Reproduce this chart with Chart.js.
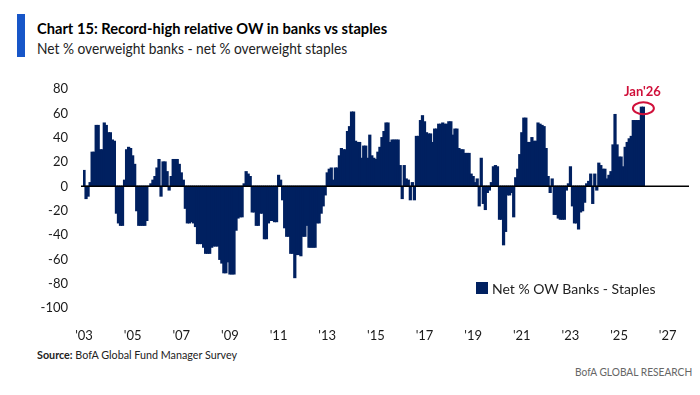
<!DOCTYPE html>
<html>
<head>
<meta charset="utf-8">
<script src="https://cdn.jsdelivr.net/npm/chart.js@4.4.1/dist/chart.umd.min.js"></script>
<style>
body{margin:0;width:700px;height:395px;background:#fff;position:relative;overflow:hidden;font-family:Lato,"Open Sans",sans-serif}
#chartBox{position:absolute;left:0;top:0;width:700px;height:395px}
.txt{position:absolute;white-space:nowrap;transform-origin:0 0;line-height:1}
#blueBar{position:absolute;left:17px;top:14px;width:8px;height:43px;background:#1756c8}
#title{left:37px;top:20px;font-weight:bold;font-size:16px;color:#000}
#subtitle{left:37px;top:41px;font-size:15px;color:#222}
#source{left:37px;top:349px;font-size:12px;color:#222}
#brand{top:366px;font-size:12px;color:#666}
</style>
</head>
<body>
<div id="blueBar"></div>
<div class="txt" id="title" data-w="350">Chart 15: Record-high relative OW in banks vs staples</div>
<div class="txt" id="subtitle" data-w="310">Net % overweight banks - net % overweight staples</div>
<div class="txt" id="source" data-w="200"><b>Source:</b> BofA Global Fund Manager Survey</div>
<div class="txt" id="brand" data-w="117" data-right="692">BofA GLOBAL RESEARCH</div>
<div id="chartBox"><canvas id="fmsChart"></canvas></div>
<script>
// monthly, Jan 2003 .. Jan 2026
const startYear = 2003
const barValues = [
  13,-10,-8,3,28,28,50,50,30,30,52,50,
  44,44,38,37,-22,-30,-32,-32,5,30,32,31,
  25,18,-20,-32,-32,-32,-32,-28,0,2,5,8,
  15,22,-8,20,20,12,-3,8,22,22,22,18,
  11,5,-18,-30,-30,-29,-30,-33,-47,-47,-47,-50,
  -55,-55,-55,-50,-49,-49,-49,-60,-63,-71,-71,-62,
  -72,-72,-72,-36,-26,-25,-25,2,12,10,8,-21,
  -21,-32,-32,-22,-22,-43,-43,-30,-28,-28,-29,-29,
  9,5,-11,-34,-41,-41,-55,-55,-75,-56,-56,-57,
  -41,-41,-32,-50,-50,-50,-50,-30,-30,-22,-16,-7,
  11,14,15,5,15,15,25,31,30,30,45,49,
  61,61,37,36,36,23,33,33,23,42,25,23,
  22,28,32,40,45,52,52,36,38,38,38,38,
  17,-10,17,6,5,-11,3,-11,41,41,54,58,
  53,44,43,43,36,47,47,51,51,52,51,51,
  53,53,42,47,47,31,30,30,27,27,27,10,
  8,3,6,-16,23,-14,-19,-5,-3,3,16,17,
  16,-27,-27,-48,-37,-7,-7,-5,-25,7,14,26,
  44,56,56,36,36,40,37,37,52,51,50,49,
  31,8,-5,6,-23,-23,-26,-27,-27,-27,-3,2,
  16,-16,-30,-30,-35,-21,-20,-13,2,4,10,-14,
  10,-3,19,17,14,14,6,9,12,34,59,34,
  24,24,16,32,36,39,41,54,54,54,54,65,
  65
]
const tickLabels = ["'03","'05","'07","'09","'11","'13","'15","'17","'19","'21","'23","'25","'27"]
const seriesName = "Net % OW Banks - Staples"
const calloutLabel = "Jan'26"
const totalMonths = 299   // axis runs on past the data to late 2027

const months = []
for (let i = 0; i < totalMonths; i++) {
    const y = startYear + Math.floor(i / 12)
    months.push(y + '-' + String(i % 12 + 1).padStart(2, '0'))
}
const seriesData = months.map((_, i) => i < barValues.length ? barValues[i] : null)

const navy = '#002060'
const red = '#d0103a'

const extras = {
    id: 'extras',
    afterDatasetsDraw(chart) {
        const {ctx, chartArea, scales: {x, y}} = chart
        const y0 = y.getPixelForValue(0)
        ctx.save()
        ctx.strokeStyle = '#000'
        ctx.lineWidth = 1.5
        ctx.beginPath()
        ctx.moveTo(chartArea.left - 2, y0)
        ctx.lineTo(chartArea.right, y0)
        ctx.stroke()

        // callout on the last bar
        const last = barValues.length - 1
        const px = x.getPixelForValue(last)
        const py = y.getPixelForValue(barValues[last])
        ctx.strokeStyle = red
        ctx.lineWidth = 2
        ctx.beginPath()
        ctx.ellipse(px, py + 1, 10.5, 6, 0, 0, Math.PI * 2)
        ctx.stroke()
        ctx.fillStyle = red
        ctx.font = 'bold 13px Lato'
        ctx.textAlign = 'center'
        ctx.textBaseline = 'middle'
        ctx.fillText(calloutLabel, px - 1, py - 15)

        // legend
        ctx.fillStyle = navy
        ctx.fillRect(476, 282, 12, 12)
        ctx.fillStyle = '#222'
        ctx.font = '14px Lato'
        ctx.textAlign = 'left'
        ctx.fillText(seriesName, 492, 289)
        ctx.restore()
    }
}

new Chart(document.getElementById('fmsChart'), {
    type: 'bar',
    data: {
        labels: months,
        datasets: [{
            label: seriesName,
            data: seriesData,
            backgroundColor: navy,
            borderWidth: 0,
            inflateAmount: 0.6,
            barPercentage: 1,
            categoryPercentage: 1
        }]
    },
    options: {
        responsive: true,
        maintainAspectRatio: false,
        animation: false,
        layout: {padding: {top: 89, right: 7, bottom: 0, left: 0}},
        plugins: {legend: {display: false}, tooltip: {enabled: false}},
        scales: {
            x: {
                grid: {display: false},
                border: {display: false},
                afterFit: s => { s.height = 395 - 308 },
                ticks: {
                    autoSkip: false, maxRotation: 0, minRotation: 0, padding: 12,
                    color: '#1a1a1a', font: {family: 'Lato', size: 13},
                    callback: (v, i) => {
                        const yr = startYear + Math.floor(i / 12)
                        if (i % 12 === 0 && (yr - startYear) % 2 === 0) return tickLabels[(yr - startYear) / 2]
                        return ''
                    }
                }
            },
            y: {
                min: -100, max: 80,
                grid: {display: false, drawTicks: false},
                border: {display: false},
                afterFit: s => { s.width = 83 },
                ticks: {stepSize: 20, padding: 15, color: '#1a1a1a', font: {family: 'Lato', size: 13}}
            }
        }
    },
    plugins: [extras]
})

// squeeze header/footer text to the widths of the condensed original font
document.querySelectorAll('.txt').forEach(el => {
    const w = +el.dataset.w
    el.style.transform = 'scaleX(' + (w / el.offsetWidth) + ')'
    if (el.dataset.right) el.style.left = (+el.dataset.right - w) + 'px'
})
</script>
</body>
</html>
